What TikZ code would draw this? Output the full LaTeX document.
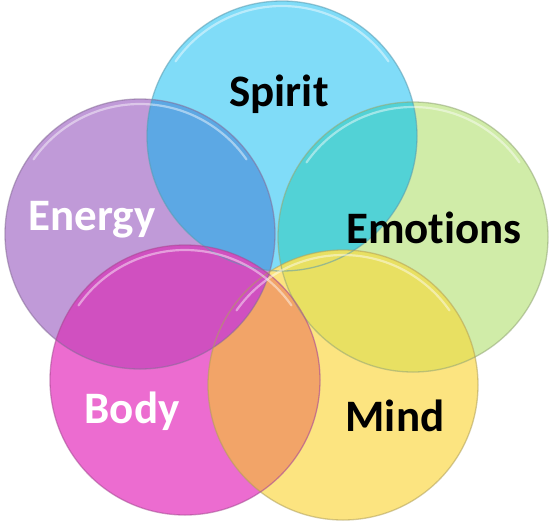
\documentclass[tikz,border=0pt]{standalone}
\usepackage{fontspec}
\setmainfont[Ligatures=CommonOff]{Carlito}
\begin{document}
\begin{tikzpicture}[x=1pt,y=-1pt,
  lbl/.style={font=\bfseries\fontsize{45}{45}\selectfont, inner sep=0pt},
  rim/.style={line width=1.3pt, draw opacity=0.55},
  shine/.style={line width=2.2pt, white, draw opacity=0.45, line cap=round}]
\useasboundingbox (0,0) rectangle (553,522);
\definecolor{cSpirit}{HTML}{80DCF8}
\definecolor{cEnergy}{HTML}{C09AD8}
\definecolor{cBody}{HTML}{EC6CD0}
\definecolor{cMind}{HTML}{FCE480}
\definecolor{cEmo}{HTML}{D0ECA8}
\definecolor{oSE}{HTML}{5CA8E4}
\definecolor{oSEm}{HTML}{52D2D6}
\definecolor{oEmM}{HTML}{E8E062}
\definecolor{oMB}{HTML}{F2A468}
\definecolor{oBE}{HTML}{D050C0}
\def\R{135}
\coordinate (pS) at (282,136);
\coordinate (pEm) at (413,237);
\coordinate (pM) at (343,385);
\coordinate (pB) at (185,380);
\coordinate (pE) at (140,234);
% pure fills
\fill[cEnergy] (pE) circle (\R);
\fill[cSpirit] (pS) circle (\R);
\fill[cEmo] (pEm) circle (\R);
\fill[cMind] (pM) circle (\R);
\fill[cBody] (pB) circle (\R);
% overlaps
\begin{scope}\clip (pE) circle (\R); \fill[oSE] (pS) circle (\R);\end{scope}
\begin{scope}\clip (pS) circle (\R); \fill[oSEm] (pEm) circle (\R);\end{scope}
\begin{scope}\clip (pEm) circle (\R); \fill[oEmM] (pM) circle (\R);\end{scope}
\begin{scope}\clip (pM) circle (\R); \fill[oMB] (pB) circle (\R);\end{scope}
\begin{scope}\clip (pB) circle (\R); \fill[oBE] (pE) circle (\R);\end{scope}
% rims
\draw[rim, cEnergy!70!black] (pE) circle (\R);
\draw[rim, cSpirit!70!black] (pS) circle (\R);
\draw[rim, cEmo!70!black] (pEm) circle (\R);
\draw[rim, cMind!70!black] (pM) circle (\R);
\draw[rim, cBody!70!black] (pB) circle (\R);
% highlights on the upper edge
\foreach \p in {pE,pS,pEm,pM,pB}{
  \draw[shine] ([shift={(215:\R-5)}]\p) arc[start angle=215, end angle=325, radius=\R-5];
}
% labels
\node[lbl, black] (tS) at (279,94) {Spirit};
\node[lbl, black] (tEm) at (434,228) {Emotions};
\node[lbl, black] (tM) at (395,416) {Mind};
\node[lbl, white] (tB) at (132,411) {Body};
\node[lbl, white] (tE) at (92,220) {Energy};
\end{tikzpicture}
\end{document}
